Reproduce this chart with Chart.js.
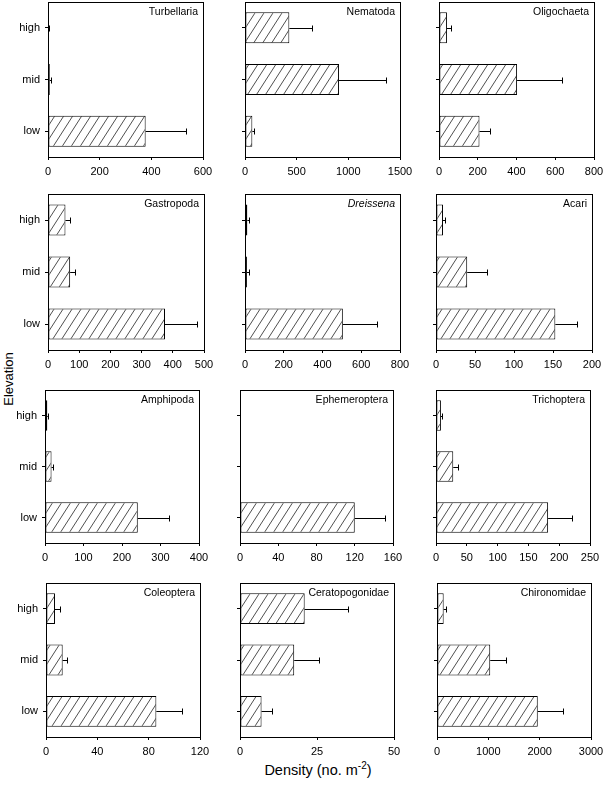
<!DOCTYPE html>
<html>
<head>
<meta charset="utf-8">
<script src="https://cdn.jsdelivr.net/npm/chart.js@4.4.0/dist/chart.umd.min.js"></script>
<style>
body { margin: 0; background: #fff; width: 605px; height: 785px; position: relative; overflow: hidden;
       font-family: "Liberation Sans", Arial, sans-serif; color: #000; }
.panel { position: absolute; }
#ylab { position: absolute; left: 8px; top: 379px; transform: translate(-50%, -50%) rotate(-90deg);
        font-size: 13px; white-space: nowrap; }
#xlab { position: absolute; left: 318px; top: 769px; transform: translate(-50%, -50%);
        font-size: 14.5px; white-space: nowrap; }
#xlab sup { font-size: 10px; }
</style>
</head>
<body>
<div id="ylab">Elevation</div>
<div id="xlab">Density (no. m<sup>-2</sup>)</div>
<script>
// data
var elevations = ["high", "mid", "low"];
var taxa = ["Turbellaria", "Nematoda", "Oligochaeta", "Gastropoda", "Dreissena", "Acari",
            "Amphipoda", "Ephemeroptera", "Trichoptera", "Coleoptera", "Ceratopogonidae", "Chironomidae"];
var meanDensity = [
  [2, 7, 378], [429, 910, 71], [41, 403, 209],
  [56, 71, 375], [12, 10, 505], [9, 40, 153],
  [6, 17, 241], [0, 0, 120], [8, 28, 182],
  [7, 13, 86], [21, 17.6, 7], [130, 1037, 1963]
];
var errDensity = [
  [2, 6, 157], [223, 455, 16], [22, 232, 53],
  [15, 16, 101], [10, 9, 176], [3, 26, 28],
  [3, 5, 82], [0, 0, 32], [2, 7, 39],
  [4, 3.4, 20], [14, 8, 3.3], [38, 304, 499]
];
var axisMax = [600, 1500, 800, 500, 800, 200, 400, 160, 250, 120, 50, 3000];
var axisStep = [200, 500, 200, 100, 200, 50, 100, 40, 50, 40, 25, 1000];

// plot area of each panel on the page: left, top, width, height
var boxes = [
  [48, 2, 155, 155], [245, 2, 155, 155], [439, 2, 155, 155],
  [48, 194, 156, 156], [245, 194, 155, 156], [436, 194, 156, 156],
  [45, 390, 154, 153], [240, 390, 153, 153], [436, 390, 154, 153],
  [46, 583, 154, 154], [240, 583, 154, 154], [437, 583, 154, 154]
];

var padLeft = 46, padTop = 14, padRight = 18, padBottom = 27;

Chart.defaults.font.family = '"Liberation Sans", Arial, sans-serif';
Chart.defaults.color = "#000";

function hatch(ctx) {
  var w = 9, h = 14;
  var c = document.createElement("canvas");
  c.width = w; c.height = h;
  var g = c.getContext("2d");
  g.fillStyle = "#fff";
  g.fillRect(0, 0, w, h);
  g.strokeStyle = "#222";
  g.lineWidth = 0.8;
  [-w, 0, w].forEach(function(dx) {
    g.beginPath();
    g.moveTo(dx, h);
    g.lineTo(dx + w, 0);
    g.stroke();
  });
  return ctx.createPattern(c, "repeat");
}

// frame, error bars and taxon name
function extras(i) {
  return {
    id: "extras" + i,
    afterDatasetsDraw: function(chart) {
      var ctx = chart.ctx, a = chart.chartArea;
      var xs = chart.scales.x, ys = chart.scales.y;
      ctx.save();
      ctx.strokeStyle = "#000";
      ctx.lineWidth = 1;
      for (var k = 0; k < elevations.length; k++) {
        var m = meanDensity[i][k], e = errDensity[i][k];
        if (!e) continue;
        var y = Math.round(ys.getPixelForValue(k)) + 0.5;
        var x0 = xs.getPixelForValue(m), x1 = Math.round(xs.getPixelForValue(m + e)) + 0.5;
        ctx.beginPath();
        ctx.moveTo(x0, y); ctx.lineTo(x1, y);
        ctx.moveTo(x1, y - 3); ctx.lineTo(x1, y + 3);
        ctx.stroke();
      }
      ctx.strokeRect(Math.round(a.left) + 0.5, Math.round(a.top) + 0.5,
                     Math.round(a.right - a.left), Math.round(a.bottom - a.top));
      ctx.fillStyle = "#000";
      ctx.textAlign = "right";
      ctx.textBaseline = "middle";
      ctx.font = (taxa[i] == "Dreissena" ? "italic " : "") + '10.5px "Liberation Sans", Arial, sans-serif';
      ctx.fillText(taxa[i], a.right - 5, a.top + 10);
      ctx.restore();
    }
  };
}

taxa.forEach(function(name, i) {
  var b = boxes[i];
  var div = document.createElement("div");
  div.className = "panel";
  div.style.left = (b[0] - padLeft) + "px";
  div.style.top = (b[1] - padTop) + "px";
  var cv = document.createElement("canvas");
  cv.width = b[2] + padLeft + padRight;
  cv.height = b[3] + padTop + padBottom;
  div.appendChild(cv);
  document.body.appendChild(div);
  var ctx = cv.getContext("2d");

  new Chart(ctx, {
    type: "bar",
    data: {
      labels: elevations,
      datasets: [{
        data: meanDensity[i],
        backgroundColor: hatch(ctx),
        borderColor: "#000",
        borderWidth: 1,
        borderSkipped: false,
        categoryPercentage: 1,
        barPercentage: 0.6
      }]
    },
    options: {
      indexAxis: "y",
      responsive: false,
      animation: false,
      layout: { padding: { left: 0, top: padTop, right: padRight, bottom: 0 } },
      plugins: { legend: { display: false }, tooltip: { enabled: false } },
      scales: {
        x: {
          min: 0, max: axisMax[i],
          ticks: { stepSize: axisStep[i], font: { size: 11 }, padding: 5, maxRotation: 0,
                   callback: function(v) { return String(v); } },
          grid: { drawOnChartArea: false, tickLength: 3, color: "#000" },
          border: { color: "#000" },
          afterFit: function(s) { s.height = padBottom; }
        },
        y: {
          ticks: { display: i % 3 == 0, font: { size: 11 }, padding: 5 },
          grid: { drawOnChartArea: false, offset: false, tickLength: 3, color: "#000" },
          border: { color: "#000" },
          afterFit: function(s) { s.width = padLeft; }
        }
      }
    },
    plugins: [extras(i)]
  });
});
</script>
</body>
</html>
